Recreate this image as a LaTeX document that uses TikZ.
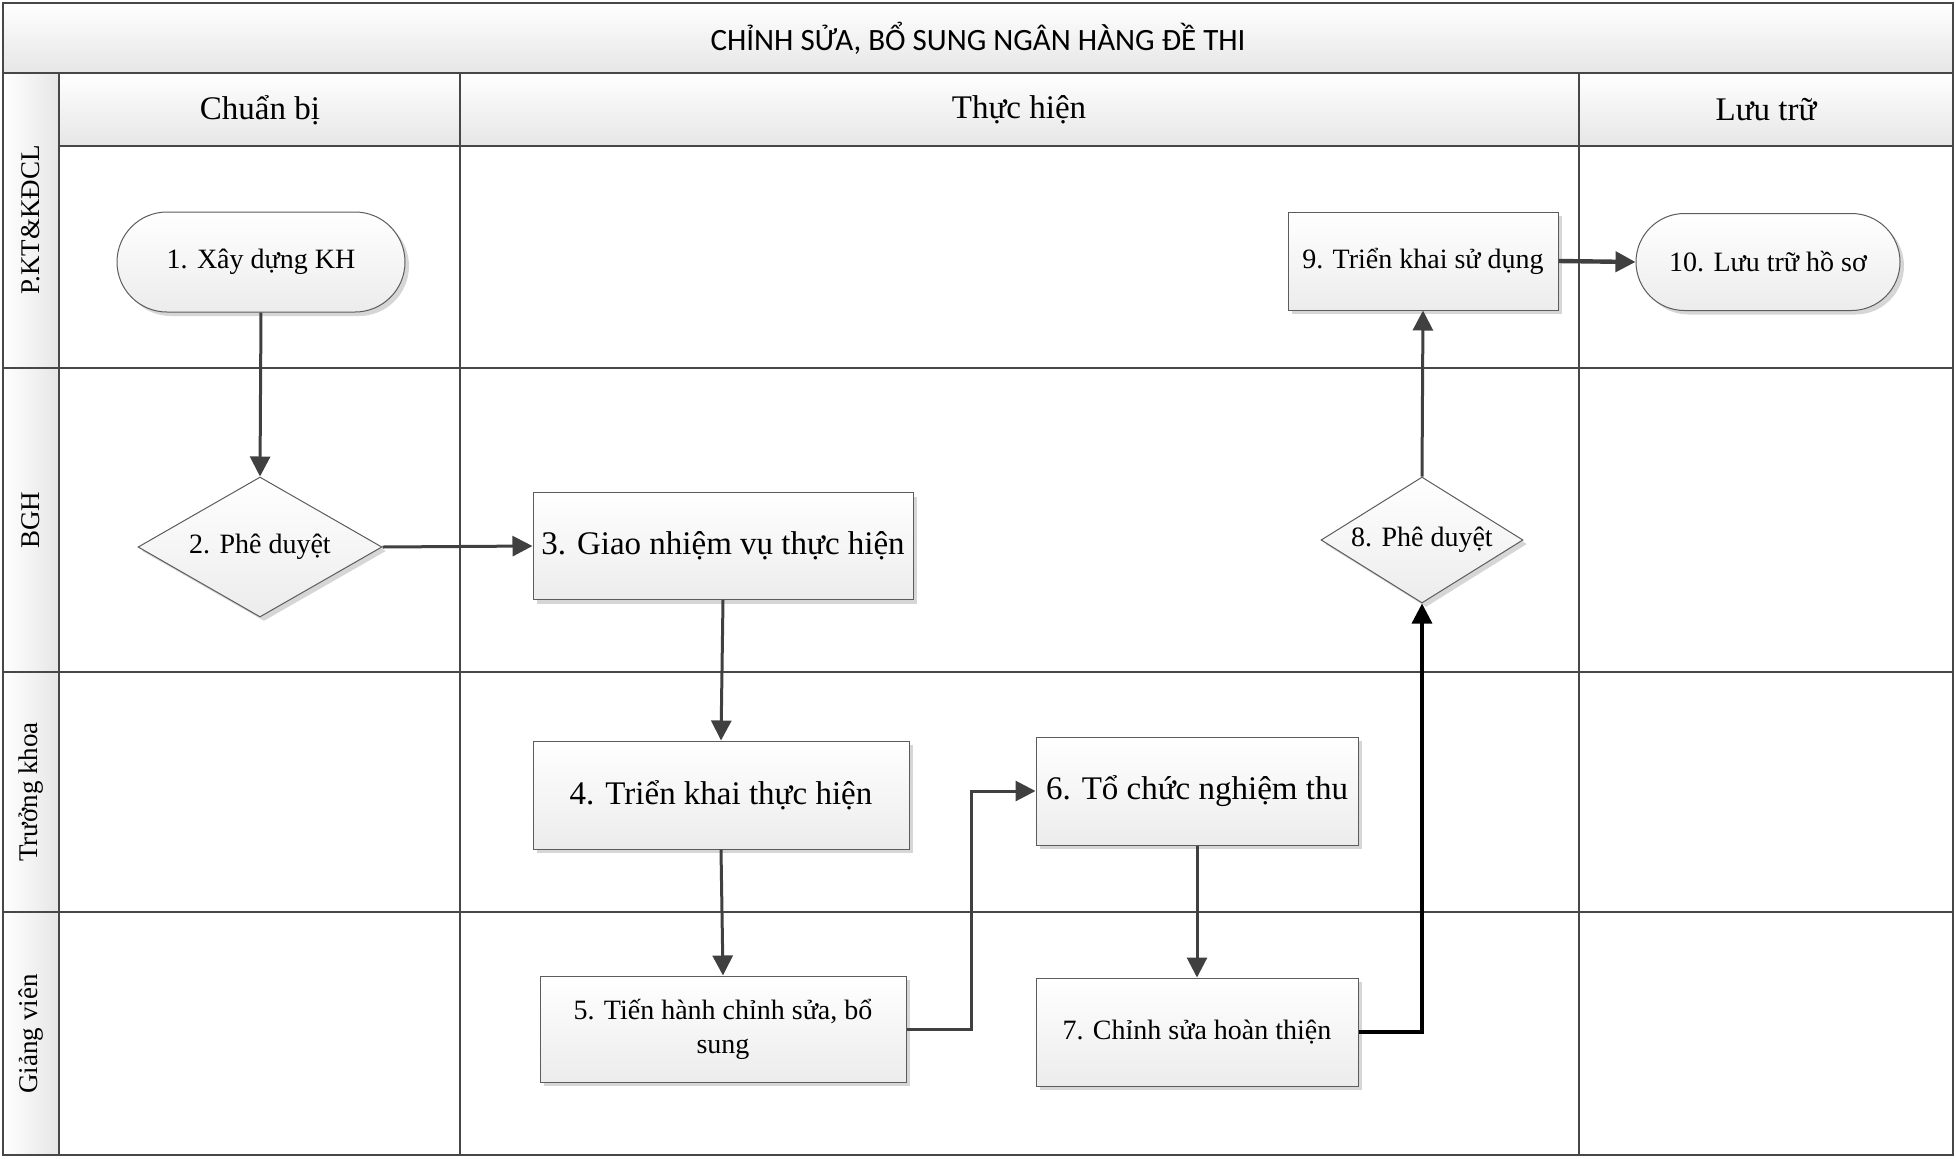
\documentclass[tikz,border=0pt]{standalone}
\usepackage{fontspec}
\setmainfont{Liberation Serif}
\newfontfamily\titlefont{Carlito}
\usepackage{tikz}
\usetikzlibrary{arrows.meta,positioning,shapes.geometric,shapes.misc,shadows}
\definecolor{swline}{HTML}{474747}
\definecolor{swarrow}{HTML}{404040}
\definecolor{swborder}{HTML}{5C5C5C}
\definecolor{swfill}{HTML}{ECECEC}
\definecolor{swband}{HTML}{E6E6E6}
\definecolor{swshadow}{HTML}{D6D6D6}

\tikzset{
  boxbase/.style={draw=swborder,line width=0.5pt,top color=white,bottom color=swfill,
    drop shadow={shadow xshift=2pt,shadow yshift=-2pt,fill=swshadow,opacity=1},
    align=center,inner sep=1pt},
  procbox/.style={boxbase,rectangle},
  termbox/.style={boxbase,rounded rectangle},
  decbox/.style={boxbase,diamond,inner sep=0pt},
  bigtext/.style={font=\fontsize{16.5}{20}\selectfont},
  headtext/.style={font=\fontsize{16.5}{20}\selectfont},
  lanetext/.style={font=\fontsize{13.5}{16}\selectfont,rotate=90},
  flow/.style={-{Triangle[width=10pt,length=10pt]},line width=1.5pt,draw=swarrow}
}

\begin{document}
\begin{tikzpicture}[x=0.5pt,y=-0.5pt,font=\fontsize{14}{17}\selectfont]
\useasboundingbox (0,0) rectangle (1956,1158);
% bands
\shade[top color=white,bottom color=swband] (3,3) rectangle (1953,73);
\foreach \xa/\xb in {59/460,460/1579,1579/1953}
  \shade[top color=white,bottom color=swband] (\xa,73) rectangle (\xb,146);
\shade[left color=white,right color=swband] (3,73) rectangle (59,1155);
% grid
\draw[swline,line width=1pt] (3,3) rectangle (1953,1155);
\draw[swline,line width=1.4pt] (3,73) -- (1953,73);
\draw[swline,line width=1.4pt] (59,146) -- (1953,146);
\foreach \y in {368,672,912}
  \draw[swline,line width=1pt] (3,\y) -- (1953,\y);
\foreach \x in {59,460,1579}
  \draw[swline,line width=1pt] (\x,73) -- (\x,1155);
% heads
\node[font=\titlefont\fontsize{15.5}{18}\selectfont] (title) at (978,38) {CHỈNH SỬA, BỔ SUNG NGÂN HÀNG ĐỀ THI};
\foreach \name/\x/\lab in {prep/260/Chuẩn bị,exec/1019/Thực hiện,arch/1766/Lưu trữ}
  \node[headtext] (\name) at (\x,110) {\lab};
\foreach \name/\y/\lab in {lanepk/220/P.KT\&KĐCL,laneb/520/BGH,lanet/792/Trưởng khoa,laneg/1034/Giảng viên}
  \node[lanetext] (\name) at (31,\y) {\lab};
% steps
\node[termbox,minimum width=146pt,minimum height=50pt] (n1) at (261,262) {1. Xây dựng KH};
\node[decbox,aspect=1.74,minimum width=122pt,minimum height=70pt] (n2) at (260,547) {2. Phê duyệt};
\node[procbox,bigtext,minimum width=190pt,minimum height=53.5pt] (n3) at (723,546) {3. Giao nhiệm vụ thực hiện};
\node[procbox,bigtext,minimum width=188pt,minimum height=54pt] (n4) at (721,795) {4. Triển khai thực hiện};
\node[procbox,minimum width=183pt,minimum height=53pt] (n5) at (723,1029) {5. Tiến hành chỉnh sửa, bổ\\sung};
\node[procbox,bigtext,minimum width=161pt,minimum height=54pt] (n6) at (1197,791) {6. Tổ chức nghiệm thu};
\node[procbox,minimum width=161pt,minimum height=54pt] (n7) at (1197,1032) {7. Chỉnh sửa hoàn thiện};
\node[decbox,aspect=1.6,minimum width=101pt,minimum height=63pt] (n8) at (1422,540) {8. Phê duyệt};
\node[procbox,minimum width=135pt,minimum height=49pt] (n9) at (1423,261) {9. Triển khai sử dụng};
\node[termbox,minimum width=134pt,minimum height=48.5pt] (n10) at (1768,262) {10. Lưu trữ hồ sơ};
% links
\draw[flow] (n1.south) -- (n2.north);
\draw[flow] (n2.east) -- (n3.west);
\draw[flow] (n3.south) -- (n4.north);
\draw[flow] (n4.south) -- (n5.north);
\draw[flow] (n5.east) -- ++(65,0) |- (n6.west);
\draw[flow] (n6.south) -- (n7.north);
\draw[flow,draw=black,line width=1.7pt] (n7.east) -| (n8.south);
\draw[flow] (n8.north) -- (n9.south);
\draw[flow,line width=2.2pt] (n9.east) -- (n10.west);
\end{tikzpicture}
\end{document}
